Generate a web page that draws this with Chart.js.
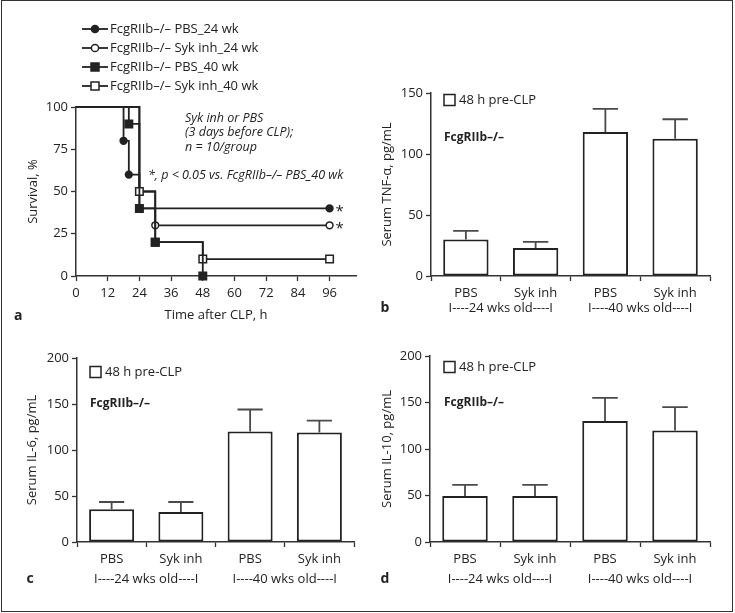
<!DOCTYPE html>
<html>
<head>
<meta charset="utf-8">
<script src="https://cdn.jsdelivr.net/npm/chart.js@4.4.0/dist/chart.umd.min.js"></script>
<style>
  body { margin: 0; background: #fff; }
  #wrap { position: relative; width: 735px; height: 613px; }
  canvas { position: absolute; }
  #frame { position: absolute; left: 1px; top: 0; width: 732px; height: 612px; box-sizing: border-box; border: 1.5px solid #333; pointer-events: none; }
</style>
</head>
<body>
<div id="wrap">
  <canvas id="panelA" width="368" height="330" style="left:0;top:0"></canvas>
  <canvas id="panelB" width="367" height="330" style="left:368px;top:0"></canvas>
  <canvas id="panelC" width="368" height="283" style="left:0;top:330px"></canvas>
  <canvas id="panelD" width="367" height="283" style="left:368px;top:330px"></canvas>
  <div id="frame"></div>
</div>
<script>
'use strict';

const INK = '#222';
const AXIS = '#333';
const FONT = "'Open Sans', sans-serif";
Chart.defaults.font.family = FONT;
Chart.defaults.font.size = 13;
Chart.defaults.color = INK;

// panel a: Kaplan-Meier survival (time in h, survival in %)
const pbs24Time = [0, 18, 20, 24, 96];
const pbs24Surv = [100, 80, 60, 40, 40];
const syk24Time = [0, 24, 30, 96];
const syk24Surv = [100, 50, 30, 30];
const pbs40Time = [0, 20, 24, 30, 48];
const pbs40Surv = [100, 90, 40, 20, 0];
const syk40Time = [0, 24, 30, 48, 96];
const syk40Surv = [100, 50, 20, 10, 10];
const survLabels = ['FcgRIIb–/– PBS_24 wk', 'FcgRIIb–/– Syk inh_24 wk', 'FcgRIIb–/– PBS_40 wk', 'FcgRIIb–/– Syk inh_40 wk'];

// panels b-d: serum cytokines, mean and SEM (pg/mL)
const treatments = ['PBS', 'Syk inh', 'PBS', 'Syk inh'];
const ageGroups = ['I----24 wks old----I', 'I----40 wks old----I'];
const tnfMean = [30, 23, 118, 112.5];
const tnfSem = [7, 5, 19, 16];
const il6Mean = [35.5, 32.5, 120, 119];
const il6Sem = [8, 11, 24, 13];
const il10Mean = [49.5, 49.5, 130, 120];
const il10Sem = [12, 12, 25, 25];

function toPoints(times, surv) {
  return times.map((t, i) => ({ x: t, y: surv[i] }));
}

function axisStyle(extra) {
  return Object.assign({
    grid: { drawOnChartArea: false, tickLength: 5, tickColor: AXIS, tickWidth: 1.3, color: AXIS },
    border: { color: AXIS, width: 1.5 },
  }, extra);
}

// ---------- panel a ----------
function kmSet(times, surv, style, filled, radius, sig) {
  return {
    data: toPoints(times, surv),
    stepped: 'before',
    borderColor: INK,
    borderWidth: 1.8,
    fill: false,
    clip: false,
    pointStyle: style,
    pointRadius: (c) => c.dataIndex === 0 ? 0 : radius,
    pointBackgroundColor: filled ? INK : '#fff',
    pointBorderColor: INK,
    pointBorderWidth: 1.5,
    sig: sig
  };
}

const kmNotes = {
  id: 'kmNotes',
  afterDraw(chart) {
    const { ctx } = chart;
    ctx.save();
    ctx.fillStyle = INK;
    ctx.strokeStyle = INK;
    ctx.textBaseline = 'middle';
    // asterisks at the end of significant curves
    ctx.font = `15px ${FONT}`;
    ctx.textAlign = 'center';
    chart.data.datasets.forEach((ds, i) => {
      if (!ds.sig) return;
      const pts = chart.getDatasetMeta(i).data;
      const last = pts[pts.length - 1];
      ctx.fillText('*', last.x + 10, last.y + 3);
    });
    // legend
    const order = [3, 2, 0, 1];
    ctx.textAlign = 'left';
    ctx.font = `13px ${FONT}`;
    order.forEach((dsIdx, row) => {
      const ds = chart.data.datasets[dsIdx];
      const y = 29 + row * 19;
      ctx.lineWidth = 1.8;
      ctx.beginPath();
      ctx.moveTo(82, y);
      ctx.lineTo(108, y);
      ctx.stroke();
      ctx.lineWidth = 1.5;
      ctx.fillStyle = ds.pointBackgroundColor;
      ctx.beginPath();
      if (ds.pointStyle === 'circle') {
        ctx.arc(95, y, 3.6, 0, Math.PI * 2);
      } else {
        ctx.rect(91, y - 4, 8, 8);
      }
      ctx.fill();
      ctx.stroke();
      ctx.fillStyle = INK;
      ctx.fillText(survLabels[row], 110, y);
    });
    // annotations
    ctx.font = `italic 12.5px ${FONT}`;
    ctx.fillText('Syk inh or PBS', 185, 118);
    ctx.fillText('(3 days before CLP);', 185, 132.5);
    ctx.fillText('n = 10/group', 185, 147);
    ctx.fillText('*, p < 0.05 vs. FcgRIIb–/– PBS_40 wk', 148, 175);
    ctx.font = `bold 14px ${FONT}`;
    ctx.fillText('a', 14, 316);
    ctx.restore();
  }
};

new Chart(document.getElementById('panelA'), {
  type: 'line',
  data: {
    datasets: [
      kmSet(pbs40Time, pbs40Surv, 'rect', true, 5.3, false),
      kmSet(syk40Time, syk40Surv, 'rect', false, 5.3, false),
      kmSet(syk24Time, syk24Surv, 'circle', false, 3.4, true),
      kmSet(pbs24Time, pbs24Surv, 'circle', true, 3.4, true)
    ]
  },
  options: {
    responsive: false,
    animation: false,
    layout: { padding: { left: 0, top: 107, right: 12, bottom: 0 } },
    plugins: { legend: { display: false }, tooltip: { enabled: false } },
    scales: {
      x: axisStyle({
        type: 'linear', min: 0, max: 106,
        ticks: { stepSize: 12, includeBounds: false, padding: 4 },
        title: { display: true, text: 'Time after CLP, h', padding: { top: 0, bottom: 7 } },
        afterFit(s) { s.height = 54; }
      }),
      y: axisStyle({
        min: 0, max: 100,
        ticks: { stepSize: 25, padding: 3 },
        title: { display: true, text: 'Survival, %', padding: { top: 25, bottom: 0 } },
        afterFit(s) { s.width = 76; }
      })
    }
  },
  plugins: [kmNotes]
});

// ---------- panels b-d ----------
const errorBars = {
  id: 'errorBars',
  afterDatasetsDraw(chart, args, opts) {
    const { ctx } = chart;
    const y = chart.scales.y;
    ctx.save();
    ctx.strokeStyle = '#4a4a4a';
    ctx.lineWidth = 1.8;
    chart.getDatasetMeta(0).data.forEach((bar, i) => {
      const top = y.getPixelForValue(opts.mean[i] + opts.sem[i]);
      const half = bar.width * 0.28;
      ctx.beginPath();
      ctx.moveTo(bar.x, bar.y);
      ctx.lineTo(bar.x, top);
      ctx.moveTo(bar.x - half, top);
      ctx.lineTo(bar.x + half, top);
      ctx.stroke();
    });
    ctx.restore();
  }
};

const barNotes = {
  id: 'barNotes',
  afterDraw(chart, args, o) {
    const { ctx } = chart;
    const x = chart.scales.x;
    ctx.save();
    ctx.fillStyle = INK;
    ctx.strokeStyle = INK;
    ctx.textBaseline = 'middle';
    ctx.lineWidth = 1.5;
    ctx.strokeRect(o.keyX, o.keyY - 5.5, 11, 11);
    ctx.font = `13px ${FONT}`;
    ctx.textAlign = 'left';
    ctx.fillText('48 h pre-CLP', o.keyX + 15, o.keyY);
    ctx.font = `bold 12px ${FONT}`;
    ctx.fillText('FcgRIIb–/–', o.keyX, o.strainY);
    ctx.font = `13px ${FONT}`;
    ctx.textAlign = 'center';
    ageGroups.forEach((g, k) => {
      const cx = (x.getPixelForValue(2 * k) + x.getPixelForValue(2 * k + 1)) / 2;
      ctx.fillText(g, cx, o.groupY);
    });
    ctx.font = `bold 14px ${FONT}`;
    ctx.fillText(o.letter, o.letterX, o.groupY);
    ctx.restore();
  }
};

function cytokineChart(id, mean, sem, yMax, yTitle, box) {
  return new Chart(document.getElementById(id), {
    type: 'bar',
    data: {
      labels: treatments,
      datasets: [{
        data: mean,
        backgroundColor: '#fff',
        borderColor: INK,
        borderWidth: 2,
        borderSkipped: false,
        barPercentage: 0.65,
        categoryPercentage: 1
      }]
    },
    options: {
      responsive: false,
      animation: false,
      layout: { padding: { left: 0, top: box.top, right: box.right, bottom: 0 } },
      plugins: {
        legend: { display: false },
        tooltip: { enabled: false },
        errorBars: { mean: mean, sem: sem },
        barNotes: box.notes
      },
      scales: {
        x: axisStyle({
          grid: { drawOnChartArea: false, offset: true, tickLength: 5, tickColor: AXIS, tickWidth: 1.3, color: AXIS },
          ticks: { padding: 4 },
          afterFit(s) { s.height = box.xHeight; }
        }),
        y: axisStyle({
          min: 0, max: yMax,
          ticks: { stepSize: 50, padding: 3 },
          title: { display: true, text: yTitle, padding: { top: box.titlePad, bottom: 0 } },
          afterFit(s) { s.width = box.yWidth; }
        })
      }
    },
    plugins: [errorBars, barNotes]
  });
}

cytokineChart('panelB', tnfMean, tnfSem, 150, 'Serum TNF-α, pg/mL', {
  top: 93, right: 25, xHeight: 54, yWidth: 63, titlePad: 11,
  notes: { keyX: 76, keyY: 100, strainY: 138, groupY: 308, letter: 'b', letterX: 17 }
});
cytokineChart('panelC', il6Mean, il6Sem, 200, 'Serum IL-6, pg/mL', {
  top: 28, right: 14, xHeight: 71, yWidth: 77, titlePad: 24,
  notes: { keyX: 90, keyY: 42, strainY: 74, groupY: 249, letter: 'c', letterX: 30 }
});
cytokineChart('panelD', il10Mean, il10Sem, 200, 'Serum IL-10, pg/mL', {
  top: 26, right: 25, xHeight: 71, yWidth: 62, titlePad: 11,
  notes: { keyX: 76, keyY: 37, strainY: 73, groupY: 249, letter: 'd', letterX: 17 }
});
</script>
</body>
</html>
